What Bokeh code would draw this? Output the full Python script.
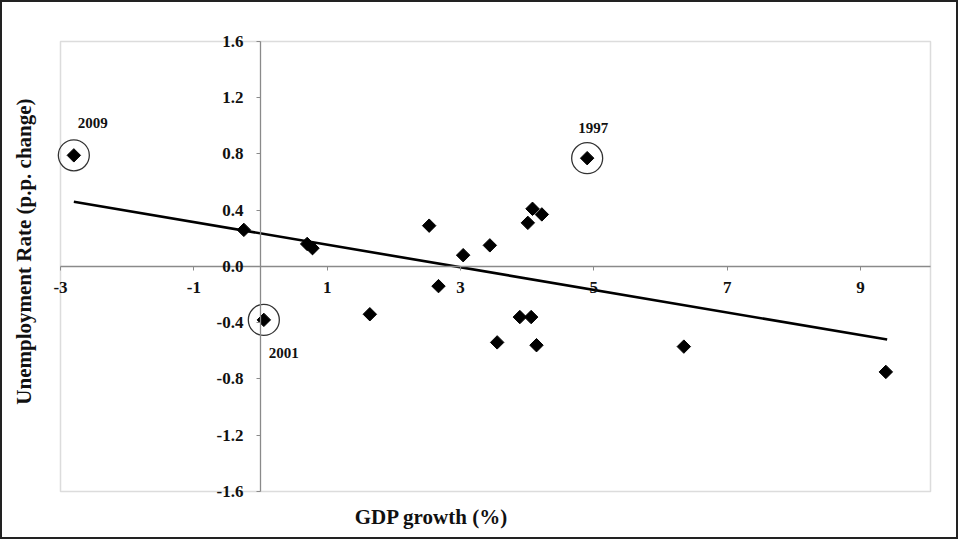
import math
from bokeh.plotting import figure
from bokeh.models import FixedTicker, PrintfTickFormatter, Label, Range1d, BoxAnnotation
from bokeh.embed import file_html
from bokeh.resources import INLINE

# ---- data ----
gdp_growth = [-2.80, 4.90, 0.05, -0.25, 0.70, 0.78, 2.53, 3.04, 2.67, 1.64,
              3.44, 4.01, 4.08, 4.22, 3.89, 4.06, 3.55, 4.14, 6.35, 9.38]
unemp_change = [0.79, 0.77, -0.38, 0.26, 0.16, 0.13, 0.29, 0.08, -0.14, -0.34,
                0.15, 0.31, 0.41, 0.37, -0.36, -0.36, -0.54, -0.56, -0.57, -0.75]
highlight_years = ["2009", "1997", "2001"]
highlight_x = [-2.80, 4.90, 0.05]
highlight_y = [0.79, 0.77, -0.38]
trend_x = [-2.8, 9.4]
trend_y = [0.46, -0.52]
x_ticks = [-3, -1, 1, 3, 5, 7, 9]
y_ticks = [-1.6, -1.2, -0.8, -0.4, 0.0, 0.4, 0.8, 1.2, 1.6]
x_lim = (-3.0, 10.05)
y_lim = (-1.6, 1.6)

FONT = "Liberation Serif"
GRAY = "#8a8a8a"

p = figure(width=958, height=539, output_backend="svg", toolbar_location=None,
           x_range=Range1d(-3.87, 10.5), y_range=Range1d(-1.956, 1.877),
           min_border=0)
p.styles = {"border": "2px solid #222"}
p.grid.visible = False
p.outline_line_color = None
p.background_fill_color = "white"
p.border_fill_color = "white"

# plot-area box
p.add_layout(BoxAnnotation(left=x_lim[0], right=x_lim[1], bottom=y_lim[0], top=y_lim[1],
                           fill_alpha=0, line_color=GRAY, line_width=1.5, level="underlay"))

for ax in (p.xaxis[0], p.yaxis[0]):
    ax.fixed_location = 0
    ax.axis_line_color = GRAY
    ax.axis_line_width = 1.3
    ax.major_tick_line_color = GRAY
    ax.major_tick_in = 0
    ax.major_tick_out = 4
    ax.minor_tick_line_color = None
    ax.major_label_text_font = FONT
    ax.major_label_text_font_style = "bold"
    ax.major_label_text_font_size = "17px"
    ax.major_label_text_color = "#111"

p.xaxis.bounds = x_lim
p.yaxis.bounds = y_lim
p.xaxis.ticker = FixedTicker(ticks=x_ticks)
p.yaxis.ticker = FixedTicker(ticks=y_ticks)
p.xaxis.formatter = PrintfTickFormatter(format="%d")
p.yaxis.formatter = PrintfTickFormatter(format="%.1f")
p.xaxis.major_label_standoff = 12
p.yaxis.major_label_standoff = 13

# trend line
p.line(trend_x, trend_y, line_color="#000", line_width=2.6)

# points
p.scatter(gdp_growth, unemp_change, marker="square", angle=math.pi / 4, size=9.5,
          fill_color="#000", line_color="#000")

# highlight rings
p.scatter(highlight_x, highlight_y, marker="circle", size=31, fill_color=None,
          line_color="#333", line_width=1.3)

offsets = [(4, 32, "left"), (6, 30, "center"), (5, -33, "left")]
for yr, hx, hy, (dx, dy, al) in zip(highlight_years, highlight_x, highlight_y, offsets):
    p.add_layout(Label(x=hx, y=hy, x_offset=dx, y_offset=dy, text=yr, text_font=FONT,
                       text_font_style="bold", text_font_size="15px", text_align=al,
                       text_baseline="middle", text_color="#111"))

# axis titles
p.add_layout(Label(x=2.565, y=-1.779, text="GDP growth (%)", text_font=FONT,
                   text_font_style="bold", text_font_size="21px", text_align="center",
                   text_baseline="middle", text_color="#111"))
p.add_layout(Label(x=-3.555, y=0.106, text="Unemployment Rate (p.p. change)", text_font=FONT,
                   text_font_style="bold", text_font_size="21px", text_align="center",
                   text_baseline="middle", angle=math.pi / 2, text_color="#111"))

open("out.html", "w").write(file_html(p, INLINE))
